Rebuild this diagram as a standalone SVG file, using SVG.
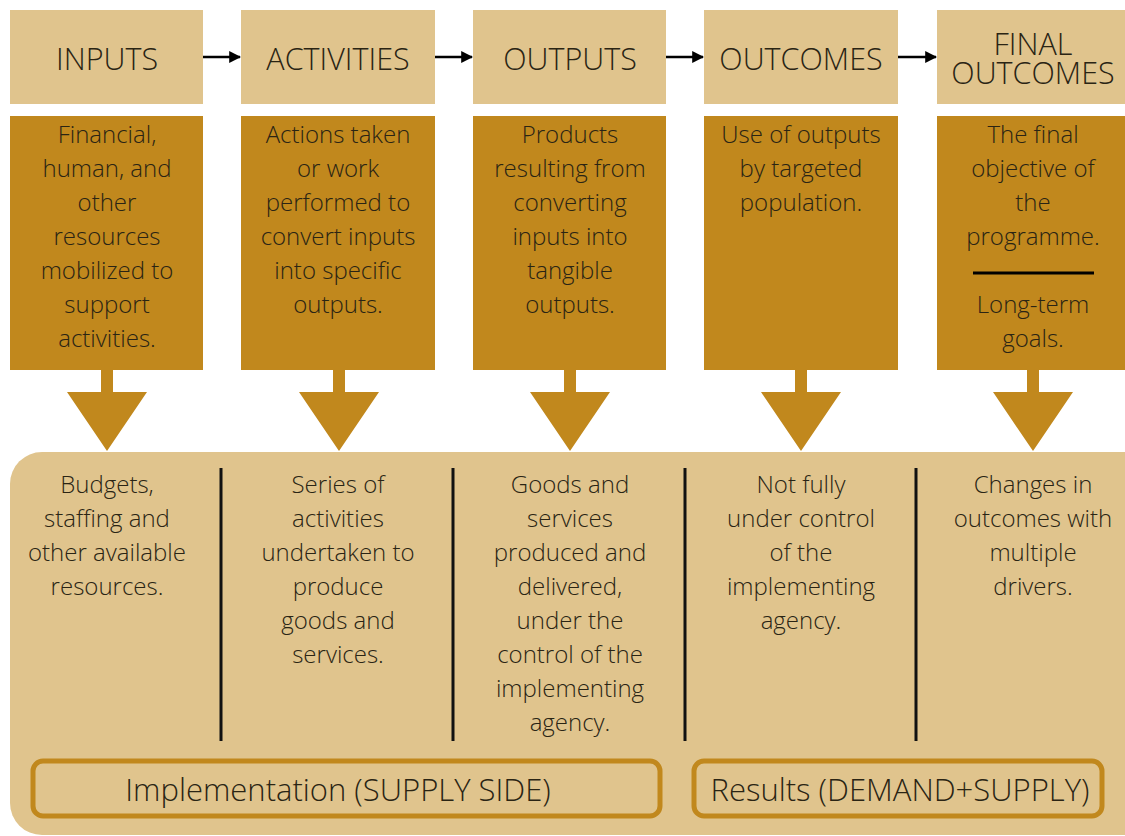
<svg xmlns="http://www.w3.org/2000/svg" width="1125" height="836" viewBox="0 0 1125 836">
<defs>
<style>
.hdr{fill:#E0C48D}
.dk{fill:#C1881D}
.t{font-family:"Open Sans","Liberation Sans",sans-serif;font-weight:300;fill:#2a2414;text-anchor:middle}
.h{font-size:30.5px}
.b{font-size:24px}
.sep{stroke:#111;stroke-width:3}
.lbl{fill:none;stroke:#C1881D;stroke-width:5}
.con{stroke:#000;stroke-width:2.5;fill:none}
</style>
<marker id="ah" viewBox="0 0 10 10" refX="9" refY="5" markerWidth="12" markerHeight="15" markerUnits="userSpaceOnUse" orient="auto"><path d="M0,0 L10,5 L0,10 z" fill="#000"/></marker>
<path id="downArrow" d="M-6,0 H6 V22 H40 L0,81 L-40,22 H-6 Z"/>
</defs>
<rect width="1125" height="836" fill="#fff"/>

<g id="connectors">
<line class="con" x1="203" y1="57" x2="240" y2="57" marker-end="url(#ah)"/>
<line class="con" x1="435" y1="57" x2="472" y2="57" marker-end="url(#ah)"/>
<line class="con" x1="666" y1="57" x2="703" y2="57" marker-end="url(#ah)"/>
<line class="con" x1="898" y1="57" x2="936" y2="57" marker-end="url(#ah)"/>
<use href="#downArrow" x="107" y="370" class="dk"/>
<use href="#downArrow" x="339" y="370" class="dk"/>
<use href="#downArrow" x="570" y="370" class="dk"/>
<use href="#downArrow" x="801" y="370" class="dk"/>
<use href="#downArrow" x="1033" y="370" class="dk"/>
</g>

<g id="panel">
<rect x="10" y="452" width="1145" height="383" rx="32" class="hdr"/>
<line class="sep" x1="221" y1="468" x2="221" y2="741"/>
<line class="sep" x1="453" y1="468" x2="453" y2="741"/>
<line class="sep" x1="685" y1="468" x2="685" y2="741"/>
<line class="sep" x1="916" y1="468" x2="916" y2="741"/>
</g>

<g id="inputs">
<rect class="hdr" x="10" y="10" width="193" height="94"/>
<text class="t h" x="107" y="70">INPUTS</text>
<rect class="dk" x="10" y="116" width="193" height="254"/>
<text class="t b" x="107" y="143">Financial,<tspan x="107" dy="34">human, and</tspan><tspan x="107" dy="34">other</tspan><tspan x="107" dy="34">resources</tspan><tspan x="107" dy="34">mobilized to</tspan><tspan x="107" dy="34">support</tspan><tspan x="107" dy="34">activities.</tspan></text>
<text class="t b" x="107" y="493">Budgets,<tspan x="107" dy="34">staffing and</tspan><tspan x="107" dy="34">other available</tspan><tspan x="107" dy="34">resources.</tspan></text>
</g>

<g id="activities">
<rect class="hdr" x="241" y="10" width="194" height="94"/>
<text class="t h" x="338" y="70">ACTIVITIES</text>
<rect class="dk" x="241" y="116" width="194" height="254"/>
<text class="t b" x="338" y="143">Actions taken<tspan x="338" dy="34">or work</tspan><tspan x="338" dy="34">performed to</tspan><tspan x="338" dy="34">convert inputs</tspan><tspan x="338" dy="34">into specific</tspan><tspan x="338" dy="34">outputs.</tspan></text>
<text class="t b" x="338" y="493">Series of<tspan x="338" dy="34">activities</tspan><tspan x="338" dy="34">undertaken to</tspan><tspan x="338" dy="34">produce</tspan><tspan x="338" dy="34">goods and</tspan><tspan x="338" dy="34">services.</tspan></text>
</g>

<g id="outputs">
<rect class="hdr" x="473" y="10" width="193" height="94"/>
<text class="t h" x="570" y="70">OUTPUTS</text>
<rect class="dk" x="473" y="116" width="193" height="254"/>
<text class="t b" x="570" y="143">Products<tspan x="570" dy="34">resulting from</tspan><tspan x="570" dy="34">converting</tspan><tspan x="570" dy="34">inputs into</tspan><tspan x="570" dy="34">tangible</tspan><tspan x="570" dy="34">outputs.</tspan></text>
<text class="t b" x="570" y="493">Goods and<tspan x="570" dy="34">services</tspan><tspan x="570" dy="34">produced and</tspan><tspan x="570" dy="34">delivered,</tspan><tspan x="570" dy="34">under the</tspan><tspan x="570" dy="34">control of the</tspan><tspan x="570" dy="34">implementing</tspan><tspan x="570" dy="34">agency.</tspan></text>
</g>

<g id="outcomes">
<rect class="hdr" x="704" y="10" width="194" height="94"/>
<text class="t h" x="801" y="70">OUTCOMES</text>
<rect class="dk" x="704" y="116" width="194" height="254"/>
<text class="t b" x="801" y="143">Use of outputs<tspan x="801" dy="34">by targeted</tspan><tspan x="801" dy="34">population.</tspan></text>
<text class="t b" x="801" y="493">Not fully<tspan x="801" dy="34">under control</tspan><tspan x="801" dy="34">of the</tspan><tspan x="801" dy="34">implementing</tspan><tspan x="801" dy="34">agency.</tspan></text>
</g>

<g id="final-outcomes">
<rect class="hdr" x="937" y="10" width="200" height="94"/>
<text class="t h" x="1033" y="55">FINAL<tspan x="1033" dy="28.5">OUTCOMES</tspan></text>
<rect class="dk" x="937" y="116" width="200" height="254"/>
<text class="t b" x="1033" y="143">The final<tspan x="1033" dy="34">objective of</tspan><tspan x="1033" dy="34">the</tspan><tspan x="1033" dy="34">programme.</tspan></text>
<line x1="973" y1="273" x2="1094" y2="273" stroke="#000" stroke-width="3"/>
<text class="t b" x="1033" y="313">Long-term<tspan x="1033" dy="34">goals.</tspan></text>
<text class="t b" x="1033" y="493">Changes in<tspan x="1033" dy="34">outcomes with</tspan><tspan x="1033" dy="34">multiple</tspan><tspan x="1033" dy="34">drivers.</tspan></text>
</g>

<g id="implementation">
<rect class="lbl" x="33" y="761" width="627" height="55" rx="10"/>
<text class="t" x="338" y="801" font-size="31">Implementation (SUPPLY SIDE)</text>
</g>

<g id="results">
<rect class="lbl" x="694" y="761" width="408" height="55" rx="10"/>
<text class="t" x="900" y="801" font-size="31">Results (DEMAND+SUPPLY)</text>
</g>
</svg>
